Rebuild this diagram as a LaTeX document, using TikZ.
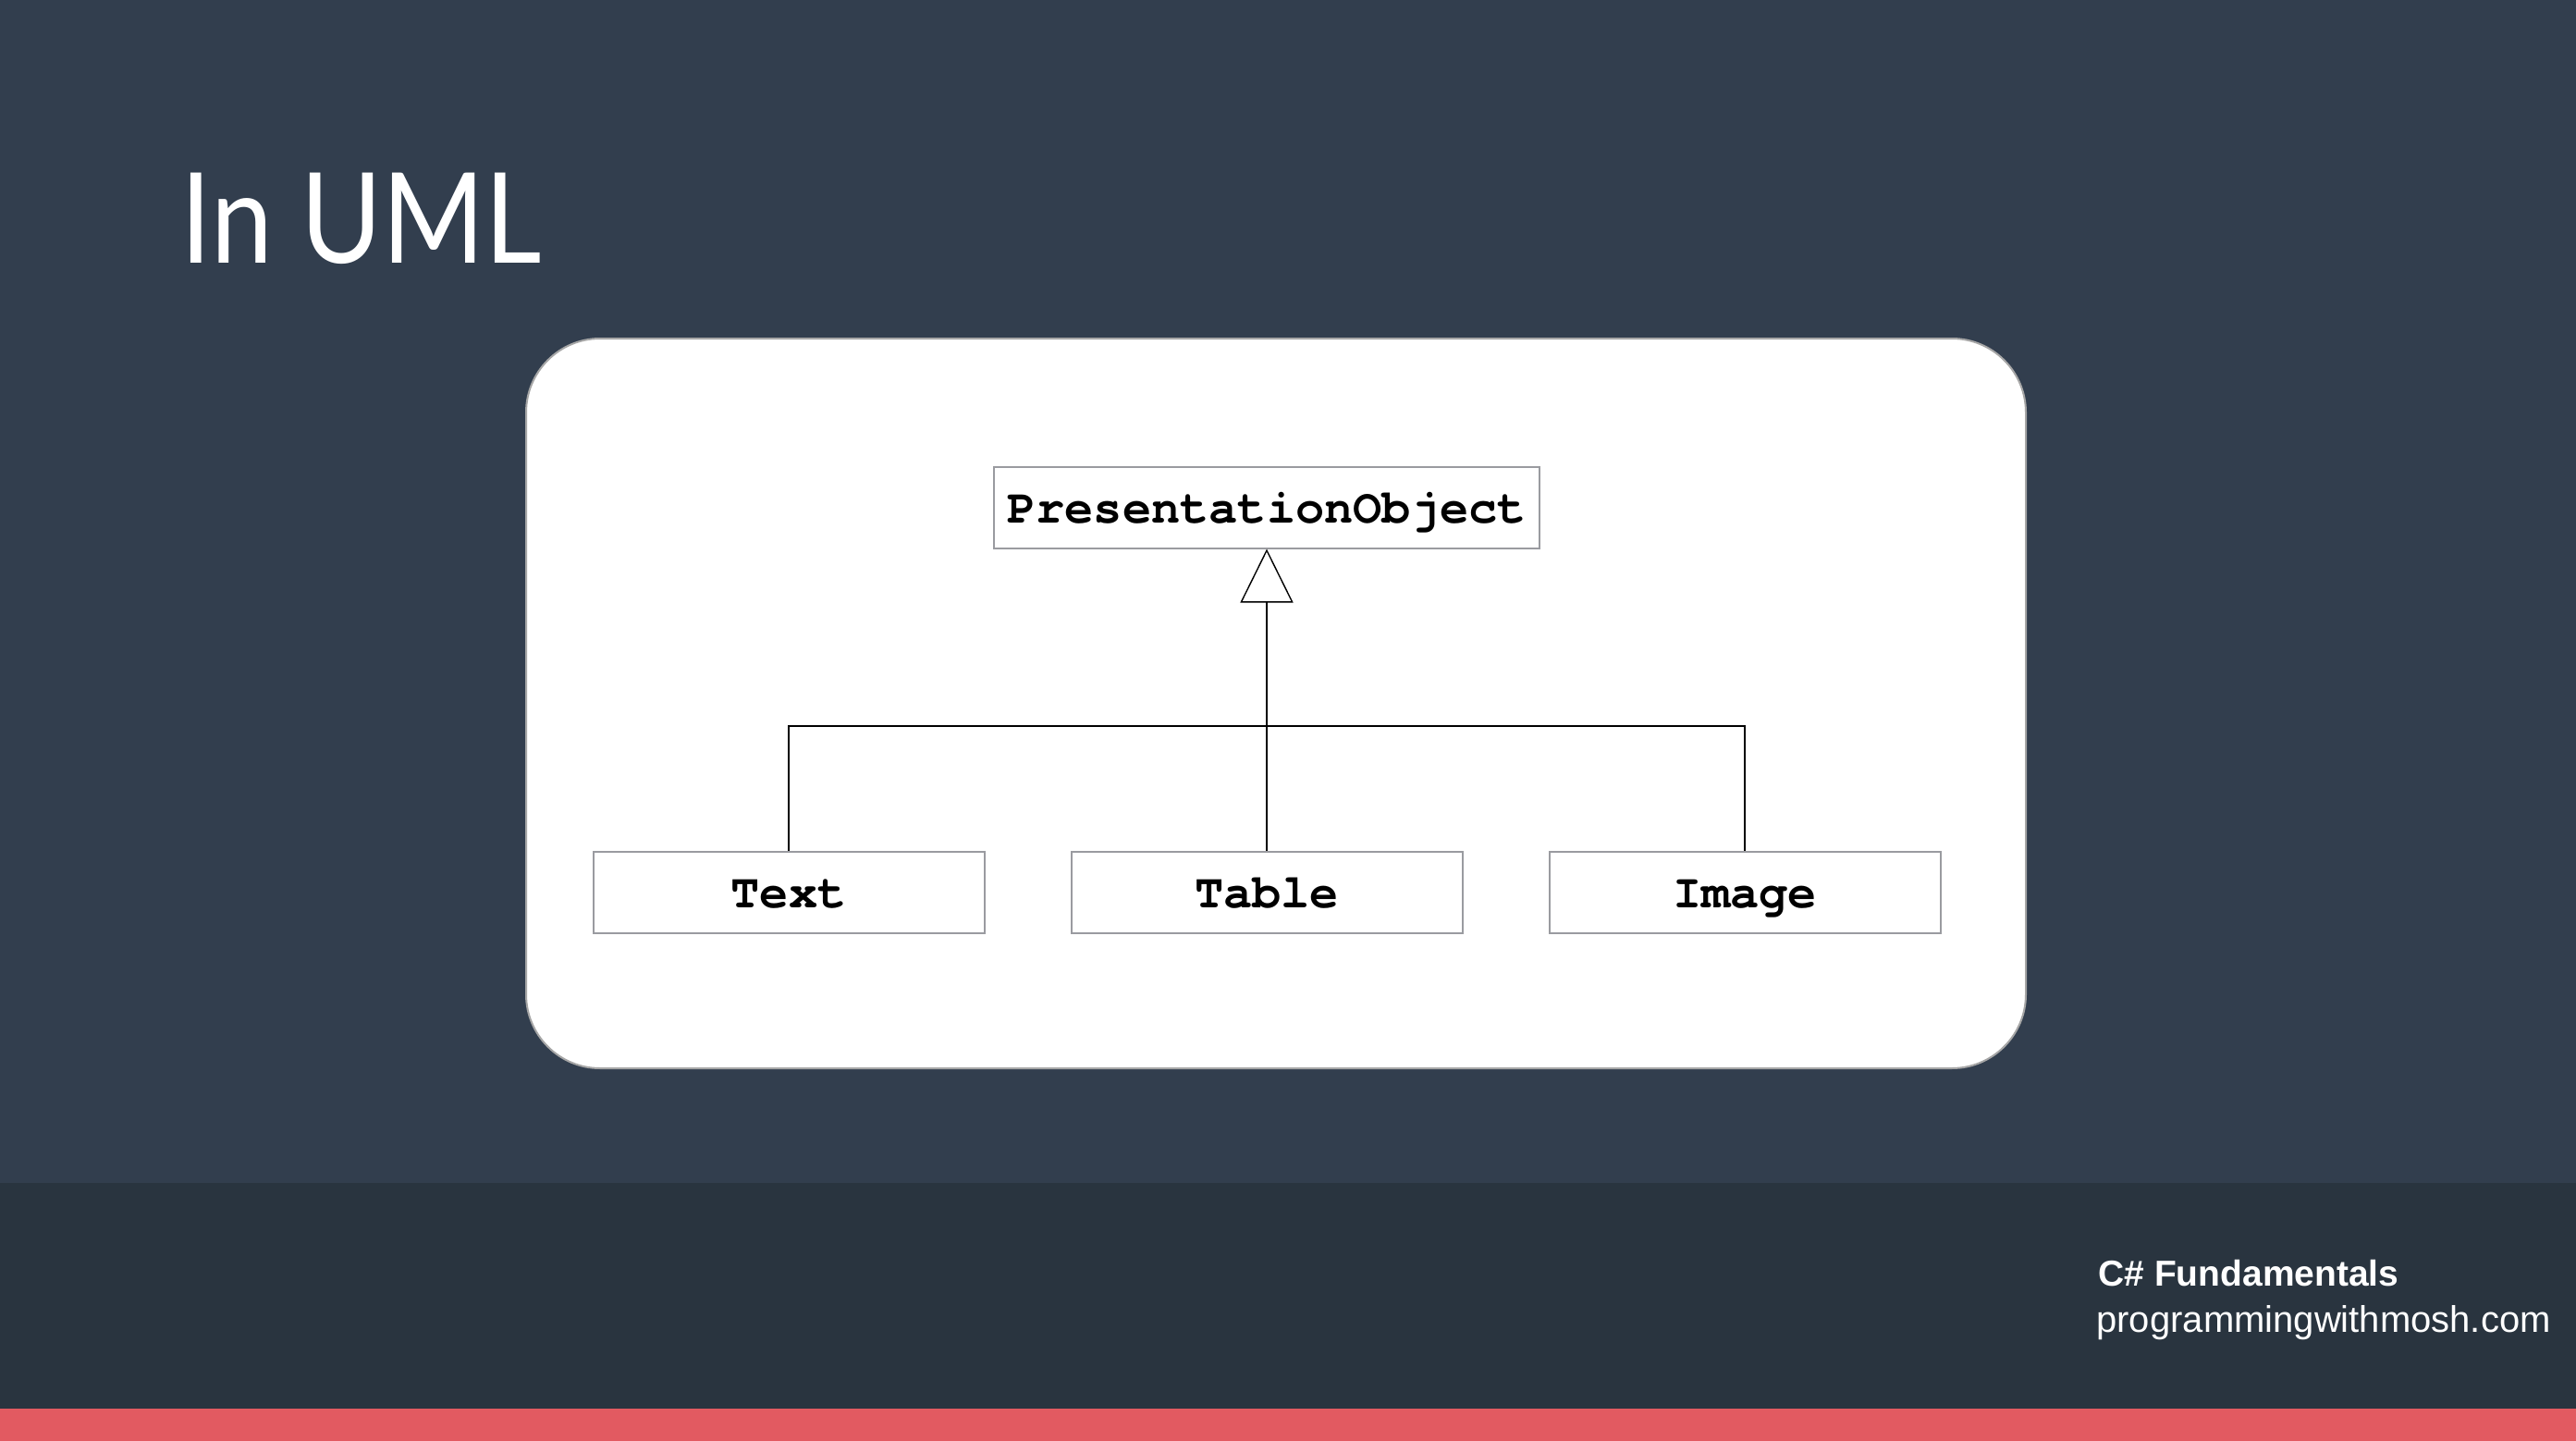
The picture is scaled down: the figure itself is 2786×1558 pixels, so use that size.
\documentclass[tikz,border=0pt]{standalone}
\usepackage{fontspec}
\setmainfont{Liberation Sans}
\newfontfamily\titlefont{Lato}
\newfontfamily\codefont{texgyrecursor}[Extension=.otf, UprightFont=*-regular, BoldFont=*-bold]
\usetikzlibrary{arrows.meta}
\definecolor{bgc}{HTML}{323E4E}
\definecolor{footc}{HTML}{29343F}
\definecolor{redc}{HTML}{E25A61}
\definecolor{boxline}{HTML}{9A9BA0}
\tikzset{
  umlbox/.style={draw=boxline, line width=1pt, fill=white, inner sep=0pt,
    minimum height=44pt, text height=19.5pt, text depth=2.5pt,
    font=\codefont\bfseries\fontsize{26}{30}\selectfont},
  conn/.style={draw=black, line width=1.3pt},
  gen/.style={conn, -{Triangle[open, length=29pt, width=28.5pt, line width=0.7pt]}},
}
\begin{document}
\begin{tikzpicture}[x=0.5pt,y=-0.5pt]
\useasboundingbox (0,0) rectangle (2786,1558);
\fill[bgc] (0,0) rectangle (2786,1279);
\fill[footc] (0,1279) rectangle (2786,1523);
\fill[redc] (0,1523) rectangle (2786,1558);
\node[anchor=base west, inner sep=0pt, text=white, font=\titlefont\fontsize{68}{80}\selectfont] (title) at (195,284) {\scalebox{0.88}[1]{In UML}};
\draw[fill=white, draw=gray!70, line width=1pt, rounded corners=40pt] (569,366) rectangle (2191,1155);
\node[umlbox, minimum width=295pt] (po) at (1370,548.5) {PresentationObject};
\node[umlbox, minimum width=211.5pt] (text) at (853,964.5) {Text};
\node[umlbox, minimum width=211.5pt] (table) at (1370,964.5) {Table};
\node[umlbox, minimum width=211.5pt] (image) at (1887,964.5) {Image};
\coordinate (junction) at (1370,785);
\draw[conn] (text.north) |- (junction) -| (image.north);
\draw[gen] (table.north) -- (po.south);
\node[anchor=base west, inner sep=0pt, text=white, font=\bfseries\fontsize{19.5}{22}\selectfont] (course) at (2269,1390) {C\# Fundamentals};
\node[anchor=base west, inner sep=0pt, text=white, font=\fontsize{20}{24}\selectfont] (site) at (2267,1440) {programmingwithmosh.com};
\end{tikzpicture}
\end{document}
